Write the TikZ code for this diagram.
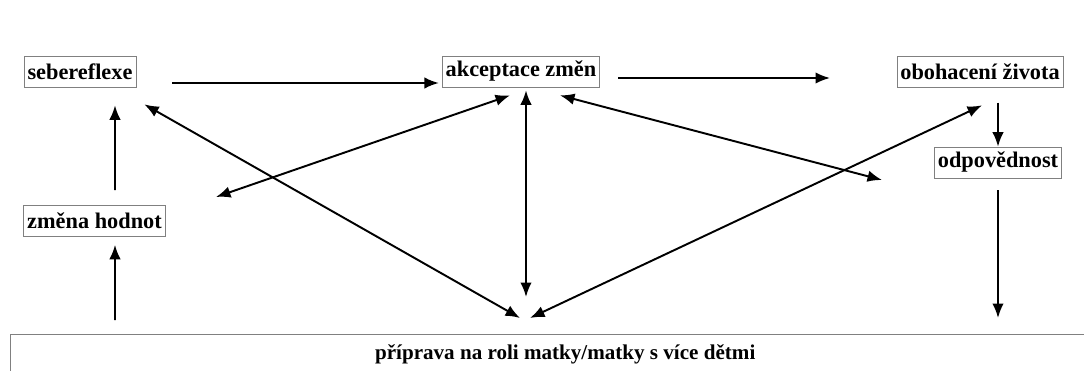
\documentclass[tikz,border=0pt]{standalone}
\usepackage{fontspec}
\setmainfont{Liberation Serif}
\usetikzlibrary{arrows.meta}

\begin{document}
\begin{tikzpicture}[x=0.02cm, y=-0.02cm]
    \tikzstyle{box} = [draw=gray, thin, inner xsep=2pt, inner ysep=0pt, minimum height=0.62cm, font=\fontsize{12.7}{15}\selectfont\bfseries];
    \tikzstyle{arr} = [-{Latex[length=2.9mm, width=2.3mm]}, line width=1.1pt];
    \tikzstyle{arrs} = [{Latex[length=2.9mm, width=2.3mm]}-{Latex[length=2.9mm, width=2.3mm]}, line width=1.1pt];

    \clip (0,0) rectangle (1084,371);
    \fill[white] (0,0) rectangle (1084,371);

    \node[box] (seb) at (80,71.5) {sebereflexe};
    \node[box] (akc) at (521,71.5) {akceptace změn};
    \node[box] (obo) at (980,71.5) {obohacení života};
    \node[box] (odp) at (998,162.5) {odpovědnost};
    \node[box] (zme) at (94.5,221) {změna hodnot};
    \node[box, anchor=north west, minimum width=22.2cm, minimum height=0.8cm, font=\fontsize{12}{14}\selectfont\bfseries] (prip) at (10,334) {příprava na roli matky/matky s více dětmi};

    % free ends
    \coordinate (ob) at (830,78);
    \coordinate (zl) at (216,197);
    \coordinate (zr) at (882,180);
    \coordinate (pa) at (520,318);
    \coordinate (pb) at (530,318);
    \coordinate (pc) at (526,297);
    \coordinate (pz) at (115,320);
    \coordinate (po) at (998,318);

    \draw[arr] ([shift={(36,11.5)}]seb.east) -- ([shift={(-3,11.5)}]akc.west);
    \draw[arr] ([shift={(18,6.5)}]akc.east) -- (ob);
    \draw[arr] ([shift={(0,-44)}]odp.north) -- (odp.north);
    \draw[arr] ([shift={(0,12)}]odp.south) -- (po);
    \draw[arr] ([shift={(20.5,-15)}]zme.north) -- ([shift={(35,18)}]seb.south);
    \draw[arr] (pz) -- ([shift={(20.5,8)}]zme.south);

    \draw[arrs] ([shift={(8,17)}]seb.south east) -- (pa);
    \draw[arrs] ([shift={(-11,8)}]akc.south) -- (zl);
    \draw[arrs] ([shift={(5,3)}]akc.south) -- (pc);
    \draw[arrs] ([shift={(39,8)}]akc.south) -- (zr);
    \draw[arrs] ([shift={(2,18)}]obo.south) -- (pb);
\end{tikzpicture}
\end{document}
